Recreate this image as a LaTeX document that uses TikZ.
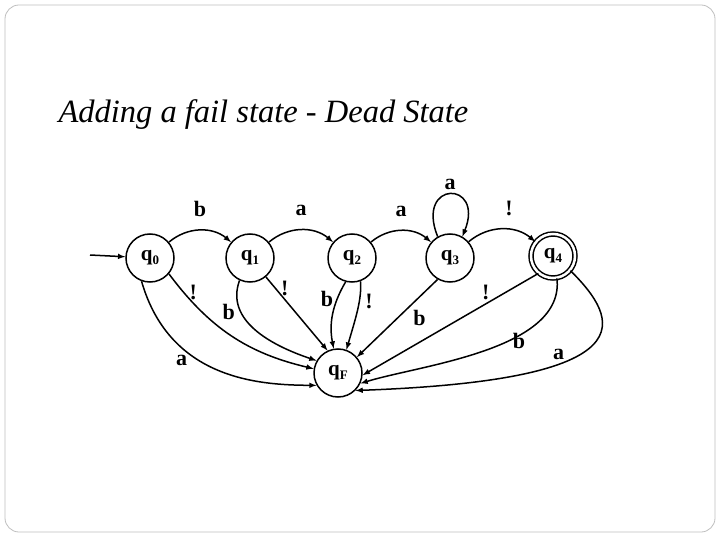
\documentclass[tikz,border=0pt]{standalone}
\usepackage{fontspec}
\setmainfont{Liberation Serif}
\newcommand{\sbs}[1]{\raisebox{-0.35ex}{\fontsize{13}{13}\selectfont #1}}
\begin{document}
\begin{tikzpicture}[x=1pt,y=-1pt,
 st/.style={circle,draw,line width=1.5pt,minimum size=48pt,inner sep=0pt,font=\bfseries\fontsize{21}{21}\selectfont},
 e/.style={->,>=latex,line width=1.5pt},
 lb/.style={font=\bfseries\fontsize{22}{22}\selectfont}]
\useasboundingbox (0,0) rectangle (720,540);
\draw[gray!50,line width=0.8pt,rounded corners=14pt] (5,5) rectangle (715,532);
\node[anchor=west,font=\itshape\fontsize{32.5}{32.5}\selectfont] (t) at (55,115) {Adding a fail state - Dead State};
\node[st] (q0) at (150,258) {q\sbs{0}};
\node[st] (q1) at (250,258) {q\sbs{1}};
\node[st] (q2) at (352,258) {q\sbs{2}};
\node[st] (q3) at (450,258) {q\sbs{3}};
\node[st,double,double distance=2.5pt,minimum size=44pt] (q4) at (553,256) {q\sbs{4}};
\node[st] (qF) at (338,373) {q\sbs{F}};
\coordinate (s) at (90,255);
\draw[e] (s) -- (q0);
\draw[e] (q0) to[bend left=40] node[lb,above=10pt] {b} (q1);
\draw[e] (q1) to[bend left=40] node[lb,above=10pt] {a} (q2);
\draw[e] (q2) to[bend left=40] node[lb,above=10pt] {a} (q3);
\draw[e] (q3) to[bend left=40] node[lb,above=10pt,pos=0.6] {!} (q4);
\draw[e] (q3.120) .. controls (415,180) and (485,180) .. node[lb,above] {a} (q3.60);
\draw[e] (q0.-40) to[bend right=20] node[lb,pos=0.12,right=2pt] {!} (qF.170);
\draw[e] (q0.-110) .. controls (170,380) and (260,385) .. node[lb,pos=0.4,left=8pt] {a} (qF.-150);
\draw[e] (q1.-115) .. controls (225,320) and (270,345) .. node[lb,pos=0.3,left=2pt] {b} (qF.150);
\draw[e] (q1.-50) -- node[lb,pos=0.15,right=2pt] {!} (qF.115);
\draw[e] (q2.-105) .. controls (335,300) and (328,320) .. node[lb,pos=0.3,left=0pt] {b} (qF.100);
\draw[e] (q2.-70) .. controls (362,300) and (355,320) .. node[lb,pos=0.35,right=2pt] {!} (qF.70);
\draw[e] (q3.-120) -- node[lb,pos=0.35,below right] {b} (qF.40);
\draw[e] (q4.-130) -- node[lb,pos=0.3,above] {!} (qF.-5);
\draw[e] (q4.-80) .. controls (565,350) and (420,365) .. node[lb,pos=0.3,below left] {b} (qF.-25);
\draw[e] (q4.-40) .. controls (620,320) and (650,380) .. node[lb,pos=0.65,above] {a} (qF.-45);
\end{tikzpicture}
\end{document}
